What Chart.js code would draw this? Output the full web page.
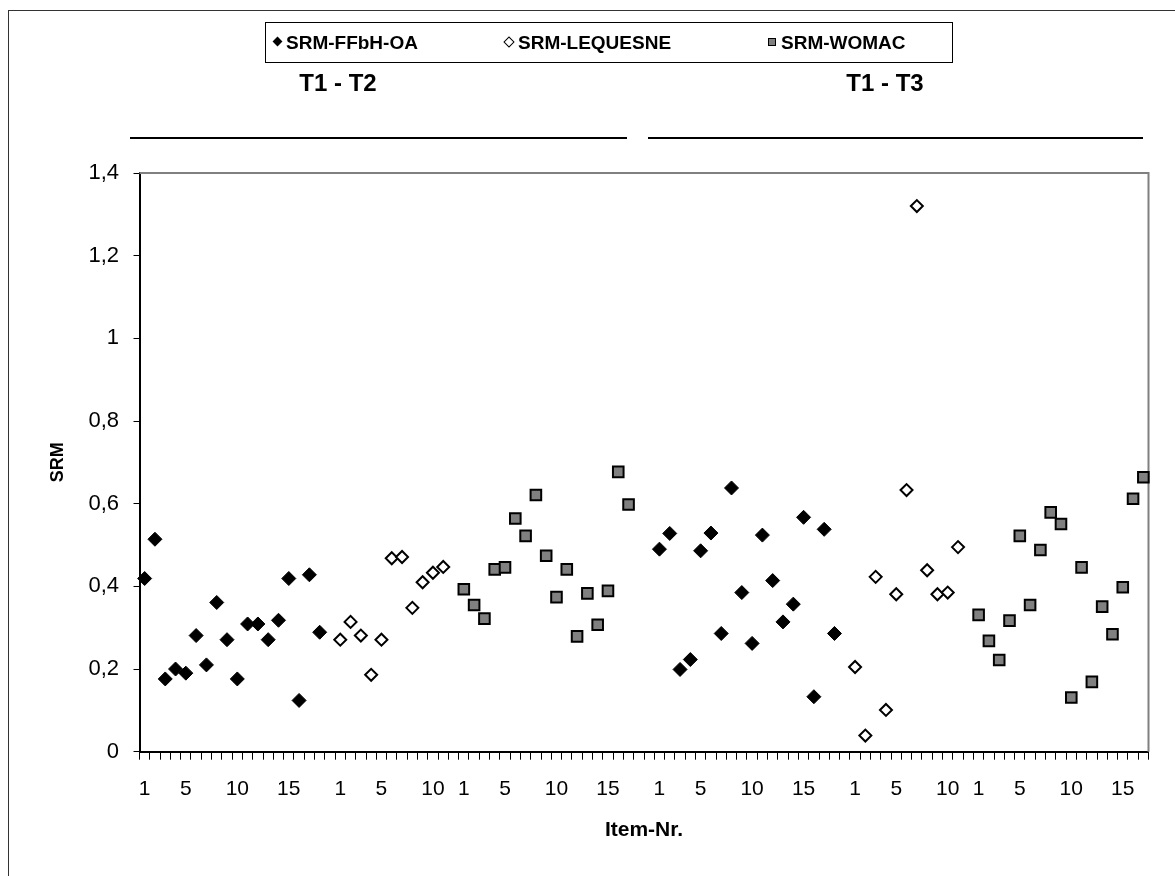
<!DOCTYPE html>
<html>
<head>
<meta charset="utf-8">
<title>SRM Item-Nr.</title>
<script src="https://cdn.jsdelivr.net/npm/chart.js@4.4.1/dist/chart.umd.min.js"></script>
<style>
  body { margin: 0; background: #fff; font-family: "Liberation Sans", Arial, sans-serif; }
  #wrap { position: relative; width: 1175px; height: 876px; overflow: hidden; }
  #frame { position: absolute; left: 8px; top: 10px; width: 1300px; height: 1000px; border: 1.5px solid #333; }
  #srmChart { position: absolute; left: 0; top: 0; }
  .legend { position: absolute; left: 265px; top: 22px; width: 688px; height: 41px; border: 1px solid #000; box-sizing: border-box; font-weight: bold; font-size: 19px; }
  .legend .item { position: absolute; top: 0; line-height: 39px; white-space: nowrap; }
  .mk { display: inline-block; vertical-align: middle; margin-right: 5px; position: relative; top: -2px; }
  .mk-fill { width: 7px; height: 7px; background: #000; transform: rotate(45deg); }
  .mk-open { width: 6px; height: 6px; border: 1.2px solid #000; background: #fff; transform: rotate(45deg); }
  .mk-sq { width: 6px; height: 6px; border: 1.2px solid #000; background: #808080; }
  .sect { position: absolute; top: 69px; width: 200px; text-align: center; font-weight: bold; font-size: 24px; }
  .rule { position: absolute; top: 137px; height: 2px; background: #000; }
</style>
</head>
<body>
<div id="wrap">
  <div id="frame"></div>
  <canvas id="srmChart" width="1175" height="876"></canvas>
  <div class="legend">
    <span class="item" style="left:8px"><span class="mk mk-fill"></span>SRM-FFbH-OA</span>
    <span class="item" style="left:239px"><span class="mk mk-open"></span>SRM-LEQUESNE</span>
    <span class="item" style="left:502px"><span class="mk mk-sq"></span>SRM-WOMAC</span>
  </div>
  <div class="sect" style="left:238px">T1 - T2</div>
  <div class="sect" style="left:785px">T1 - T3</div>
  <div class="rule" style="left:130px; width:497px"></div>
  <div class="rule" style="left:648px; width:495px"></div>
</div>
<script>
// ---- data (SRM per item) ----
const ffbhT2  = [0.419, 0.514, 0.176, 0.200, 0.190, 0.281, 0.210, 0.361, 0.271, 0.176, 0.309, 0.309, 0.271, 0.318, 0.419, 0.124, 0.428, 0.289];
const leqT2   = [0.271, 0.314, 0.281, 0.186, 0.271, 0.468, 0.471, 0.348, 0.410, 0.433, 0.447];
const womacT2 = [0.393, 0.355, 0.322, 0.441, 0.446, 0.564, 0.522, 0.621, 0.474, 0.374, 0.441, 0.279, 0.383, 0.307, 0.389, 0.677, 0.598];
const ffbhT3  = [0.490, 0.528, 0.199, 0.223, 0.486, 0.529, 0.286, 0.638, 0.385, 0.262, 0.524, 0.414, 0.314, 0.357, 0.567, 0.133, 0.538, 0.286];
const leqT3   = [0.205, 0.039, 0.423, 0.101, 0.381, 0.633, 1.320, 0.439, 0.381, 0.385, 0.495];
const womacT3 = [0.331, 0.268, 0.222, 0.317, 0.522, 0.355, 0.488, 0.579, 0.551, 0.131, 0.446, 0.169, 0.351, 0.284, 0.398, 0.612, 0.664];

const itemTicks = [1, 5, 10, 15];
const yTicks = [0, 0.2, 0.4, 0.6, 0.8, 1, 1.2, 1.4];

// category layout: groups separated by empty slots
const blocks = [
  { key: 'ffbh', values: ffbhT2 }, { gap: 1 },
  { key: 'leq', values: leqT2 }, { gap: 1 },
  { key: 'womac', values: womacT2 }, { gap: 2 },
  { key: 'ffbh', values: ffbhT3 }, { gap: 1 },
  { key: 'leq', values: leqT3 }, { gap: 1 },
  { key: 'womac', values: womacT3 }
];

const labels = [];
const series = { ffbh: [], leq: [], womac: [] };
blocks.forEach(b => {
  const n = b.gap || b.values.length;
  for (let i = 0; i < n; i++) {
    labels.push(b.gap ? '' : (itemTicks.includes(i + 1) ? String(i + 1) : ''));
    Object.keys(series).forEach(k => {
      series[k].push(!b.gap && b.key === k ? b.values[i] : null);
    });
  }
});

const fontFamily = "'Liberation Sans', Arial, sans-serif";

// gray top/right border of the plot area
const plotFrame = {
  id: 'plotFrame',
  beforeDatasetsDraw(chart) {
    const { ctx, chartArea: a } = chart;
    ctx.save();
    ctx.strokeStyle = '#808080';
    ctx.lineWidth = 2;
    ctx.beginPath();
    ctx.moveTo(a.left, a.top);
    ctx.lineTo(a.right, a.top);
    ctx.lineTo(a.right, a.bottom);
    ctx.stroke();
    ctx.restore();
  }
};

new Chart(document.getElementById('srmChart'), {
  type: 'line',
  data: {
    labels: labels,
    datasets: [
      {
        label: 'SRM-FFbH-OA',
        data: series.ffbh,
        showLine: false,
        pointStyle: 'rectRot',
        pointRadius: 7,
        backgroundColor: '#000',
        borderColor: '#000',
        borderWidth: 1
      },
      {
        label: 'SRM-LEQUESNE',
        data: series.leq,
        showLine: false,
        pointStyle: 'rectRot',
        pointRadius: 6,
        backgroundColor: '#fff',
        borderColor: '#000',
        borderWidth: 2
      },
      {
        label: 'SRM-WOMAC',
        data: series.womac,
        showLine: false,
        pointStyle: 'rect',
        pointRadius: 7.5,
        backgroundColor: '#808080',
        borderColor: '#000',
        borderWidth: 2
      }
    ]
  },
  options: {
    responsive: false,
    animation: false,
    layout: { padding: { top: 173, right: 26.5, bottom: 24.3, left: 0 } },
    plugins: {
      legend: { display: false },
      tooltip: { enabled: false }
    },
    scales: {
      x: {
        offset: true,
        grid: { offset: true, drawOnChartArea: false, drawTicks: true, tickLength: 8, color: '#000' },
        border: { color: '#000', width: 2 },
        ticks: {
          autoSkip: false, maxRotation: 0, minRotation: 0, padding: 17,
          color: '#000', font: { family: fontFamily, size: 21 }
        },
        title: {
          display: true, text: 'Item-Nr.', color: '#000',
          font: { family: fontFamily, size: 21, weight: 'bold' },
          padding: { top: 0, bottom: 9 }
        },
        afterFit: s => { s.height = 100; }
      },
      y: {
        min: 0,
        max: 1.4,
        afterBuildTicks: s => { s.ticks = yTicks.map(v => ({ value: v })); },
        grid: { drawOnChartArea: false, drawTicks: true, tickLength: 6, color: '#000' },
        border: { color: '#000', width: 2 },
        ticks: {
          padding: 14.5, color: '#000', font: { family: fontFamily, size: 22 },
          callback: v => String(Math.round(v * 10) / 10).replace('.', ',')
        },
        title: {
          display: true, text: 'SRM', color: '#000',
          font: { family: fontFamily, size: 18, weight: 'bold' },
          padding: { top: 47, bottom: 0 }
        },
        afterFit: s => { s.width = 139.5; }
      }
    }
  },
  plugins: [plotFrame]
});
</script>
</body>
</html>
